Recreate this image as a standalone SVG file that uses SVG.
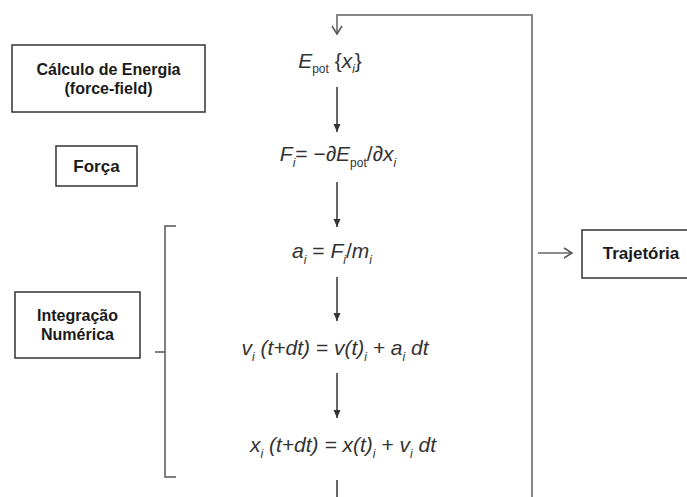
<svg xmlns="http://www.w3.org/2000/svg" width="687" height="497" viewBox="0 0 687 497">
<style>
.box{fill:#fff;stroke:#333;stroke-width:1.5}
.lbl{font-family:"Liberation Sans",Arial,sans-serif;font-weight:bold;font-size:17px;fill:#1a1a1a;text-anchor:middle}
.l2{font-size:16px}
.eq{font-family:"Liberation Sans",Arial,sans-serif;font-style:italic;font-size:21px;fill:#333;text-anchor:middle}
.sub{font-size:12px}
.up{font-style:normal}
.arr{stroke:#333;stroke-width:1.5;fill:none}
.loop{stroke:#888;stroke-width:2;fill:none}
</style>
<defs>
<marker id="ah" markerWidth="10" markerHeight="10" refX="8" refY="5" orient="auto" markerUnits="userSpaceOnUse">
<path d="M0,1.5 L8,5 L0,8.5 Z" fill="#333"/>
</marker>
<marker id="oh" markerWidth="12" markerHeight="12" refX="9" refY="6" orient="auto" markerUnits="userSpaceOnUse">
<path d="M1,1 L9,6 L1,11" fill="none" stroke="#555" stroke-width="1.5"/>
</marker>
</defs>

<g id="connectors">
<path class="loop" d="M532,497 L532,15 L337,15 L337,34" marker-end="url(#oh)"/>
<line class="arr" x1="337" y1="87" x2="337" y2="132" marker-end="url(#ah)"/>
<line class="arr" x1="337" y1="182" x2="337" y2="227" marker-end="url(#ah)"/>
<line class="arr" x1="337" y1="277" x2="337" y2="321" marker-end="url(#ah)"/>
<line class="arr" x1="337" y1="373" x2="337" y2="418" marker-end="url(#ah)"/>
<line class="arr" x1="337" y1="480" x2="337" y2="497"/>
<line x1="538" y1="253" x2="572" y2="253" stroke="#666" stroke-width="1.5" marker-end="url(#oh)"/>
<path d="M176,226 L165,226 L165,477 L176,477 M155,352 L165,352" fill="none" stroke="#555" stroke-width="1.5"/>
</g>

<g id="calculo">
<rect class="box" x="12" y="45" width="193" height="67"/>
<text class="lbl l2" x="108.5" y="75">Cálculo de Energia</text>
<text class="lbl l2" x="108.5" y="94">(force-field)</text>
</g>

<g id="forca">
<rect class="box" x="56" y="146" width="81" height="40"/>
<text class="lbl" x="96.5" y="172">Força</text>
</g>

<g id="integracao">
<rect class="box" x="15" y="292" width="125" height="66"/>
<text class="lbl l2" x="77.5" y="321">Integração</text>
<text class="lbl l2" x="77.5" y="340">Numérica</text>
</g>

<g id="trajetoria">
<rect class="box" x="582" y="230" width="110" height="48"/>
<text class="lbl" x="641" y="259">Trajetória</text>
</g>

<g id="epot">
<text class="eq" x="330" y="68">E<tspan class="sub up" dy="5">pot</tspan><tspan dy="-5" class="up"> {</tspan>x<tspan class="sub" dy="5">i</tspan><tspan class="up" dy="-5">}</tspan></text>
</g>

<g id="forca-eq">
<text class="eq" x="338" y="161">F<tspan class="sub" dy="6">i</tspan><tspan class="up" dy="-6">= −∂</tspan>E<tspan class="sub up" dy="6">pot</tspan><tspan class="up" dy="-6">/∂</tspan>x<tspan class="sub" dy="6">i</tspan></text>
</g>

<g id="acel">
<text class="eq" x="332" y="258">a<tspan class="sub" dy="6">i</tspan><tspan class="up" dy="-6"> = </tspan>F<tspan class="sub" dy="6">i</tspan><tspan class="up" dy="-6">/</tspan>m<tspan class="sub" dy="6">i</tspan></text>
</g>

<g id="vel">
<text class="eq" x="335" y="355">v<tspan class="sub" dy="6">i</tspan><tspan dy="-6"> (t+dt) = v(t)</tspan><tspan class="sub" dy="6">i</tspan><tspan dy="-6"> + a</tspan><tspan class="sub" dy="6">i</tspan><tspan dy="-6"> dt</tspan></text>
</g>

<g id="pos">
<text class="eq" x="343" y="452">x<tspan class="sub" dy="6">i</tspan><tspan dy="-6"> (t+dt) = x(t)</tspan><tspan class="sub" dy="6">i</tspan><tspan dy="-6"> + v</tspan><tspan class="sub" dy="6">i</tspan><tspan dy="-6"> dt</tspan></text>
</g>
</svg>
